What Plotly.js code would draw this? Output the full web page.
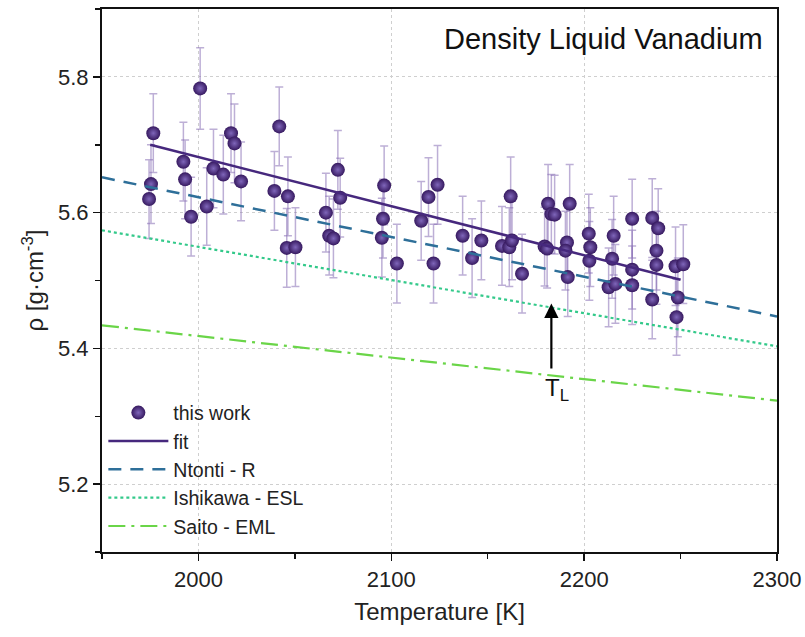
<!DOCTYPE html>
<html><head><meta charset="utf-8">
<script src="https://cdn.plot.ly/plotly-3.0.1.min.js"></script>
<style>html,body{margin:0;padding:0;background:#fff}#plot{width:805px;height:637px}</style>
</head><body><div id="plot"></div>
<script>
// measured points (this work)
const tempK = [1976.6,1975.4,1974.4,1992.2,1993.1,1996.2,2000.9,2004.3,2007.8,2012.9,2016.9,2018.7,2022.1,
  2041.9,2039.4,2046.4,2045.8,2050.3,2066.1,2067.8,2070.0,2072.3,2073.5,2096.3,2095.7,2095.1,
  2102.9,2115.5,2119.3,2124.0,2121.9,2137.0,2141.9,2146.7,2157.4,2161.2,2162.6,2161.9,2167.8,
  2181.3,2183.0,2184.7,2179.5,2180.8,2192.5,2191.1,2190.3,2191.5,2202.4,2203.2,2202.7,
  2215.3,2214.5,2212.7,2216.2,2224.9,2224.9,2224.9,2235.3,2238.4,2237.5,2237.5,2235.3,
  2247.4,2251.4,2248.6,2247.9];
const density = [5.717,5.642,5.620,5.675,5.649,5.594,5.783,5.609,5.665,5.656,5.717,5.702,5.646,
  5.727,5.632,5.624,5.548,5.549,5.600,5.566,5.562,5.663,5.622,5.640,5.591,5.563,
  5.525,5.588,5.623,5.641,5.525,5.566,5.533,5.559,5.551,5.549,5.559,5.624,5.510,
  5.613,5.598,5.597,5.550,5.547,5.613,5.556,5.544,5.505,5.569,5.549,5.529,
  5.566,5.532,5.490,5.495,5.591,5.516,5.493,5.592,5.577,5.544,5.523,5.472,
  5.521,5.524,5.475,5.446];
const densityErr = [0.058,0.058,0.058,0.058,0.058,0.058,0.060,0.057,0.058,0.058,0.058,0.058,0.058,
  0.058,0.058,0.058,0.058,0.058,0.058,0.058,0.058,0.058,0.058,0.058,0.058,0.058,
  0.058,0.058,0.058,0.058,0.058,0.058,0.058,0.058,0.058,0.058,0.058,0.058,0.058,
  0.058,0.058,0.058,0.058,0.058,0.058,0.058,0.058,0.058,0.058,0.058,0.058,
  0.058,0.058,0.058,0.058,0.058,0.058,0.058,0.058,0.058,0.058,0.058,0.058,
  0.058,0.058,0.058,0.056];
// fit and literature lines (endpoints)
const fitT = [1975, 2250], fitRho = [5.700, 5.501];
const ntontiT = [1950, 2300], ntontiRho = [5.652, 5.447];
const ishikawaT = [1950, 2300], ishikawaRho = [5.574, 5.403];
const saitoT = [1950, 2300], saitoRho = [5.434, 5.323];
const xTicks = [2000, 2100, 2200, 2300];
const yTicks = [5.2, 5.4, 5.6, 5.8];
const liquidusT = 2183;

const FONT = 'Liberation Sans, Arial, sans-serif';
const traces = [
  {x: tempK, y: density, type: 'scatter', mode: 'markers', name: 'this work',
   error_y: {type: 'data', array: densityErr, visible: true, color: 'rgba(135,110,180,0.55)', thickness: 1.5, width: 4},
   marker: {size: 14, color: '#36195f', gradient: {type: 'radial', color: '#7f66ba'}, line: {width: 0}}},
  {x: fitT, y: fitRho, type: 'scatter', mode: 'lines', name: 'fit', line: {color: '#46287d', width: 2.5}},
  {x: ntontiT, y: ntontiRho, type: 'scatter', mode: 'lines', name: 'Ntonti - R', line: {color: '#2e6f99', width: 2.5, dash: '13px,9px'}},
  {x: ishikawaT, y: ishikawaRho, type: 'scatter', mode: 'lines', name: 'Ishikawa - ESL', line: {color: '#33c98a', width: 2.2, dash: 'dot'}},
  {x: saitoT, y: saitoRho, type: 'scatter', mode: 'lines', name: 'Saito - EML', line: {color: '#6ad548', width: 2.2, dash: '17px,6px,3px,6px'}}
];
const axisCommon = {
  showline: true, linecolor: '#111', linewidth: 2, mirror: true,
  ticks: 'outside', ticklen: 7, tickwidth: 1.5, tickcolor: '#111',
  showgrid: true, gridcolor: '#cfcfcf', griddash: 'dot', gridwidth: 1,
  zeroline: false, tickfont: {family: FONT, size: 22, color: '#222'}
};
const layout = {
  width: 805, height: 637,
  margin: {l: 102, r: 28, t: 9, b: 85},
  paper_bgcolor: '#fff', plot_bgcolor: '#fff',
  font: {family: FONT, color: '#222'},
  showlegend: true,
  legend: {x: 0.002, y: 0.292, xanchor: 'left', yanchor: 'top', bgcolor: 'rgba(0,0,0,0)',
           font: {family: FONT, size: 19.5, color: '#222'}, itemwidth: 60, tracegroupgap: 0},
  xaxis: Object.assign({}, axisCommon, {range: [1950, 2300], tickvals: xTicks,
    minor: {dtick: 50, ticks: 'outside', ticklen: 5, tickwidth: 1.5, tickcolor: '#111', showgrid: false},
    title: {text: 'Temperature [K]', font: {family: FONT, size: 24, color: '#222'}, standoff: 12}}),
  yaxis: Object.assign({}, axisCommon, {range: [5.1, 5.9], tickvals: yTicks, tickformat: '.1f',
    minor: {dtick: 0.1, ticks: 'outside', ticklen: 5, tickwidth: 1.5, tickcolor: '#111', showgrid: false},
    title: {text: 'ρ [g·cm<sup>-3</sup>]', font: {family: FONT, size: 24, color: '#222'}, standoff: 8}}),
  annotations: [
    {xref: 'paper', yref: 'paper', x: 0.982, y: 0.945, xanchor: 'right', yanchor: 'middle',
     text: 'Density Liquid Vanadium', showarrow: false, font: {family: FONT, size: 29, color: '#111'}},
    {x: liquidusT, y: 5.466, ax: liquidusT, ay: 5.368, axref: 'x', ayref: 'y', xref: 'x', yref: 'y',
     text: '', showarrow: true, arrowhead: 2, arrowsize: 1.3, arrowwidth: 2.2, arrowcolor: '#000'},
    {x: liquidusT + 3, y: 5.34, xref: 'x', yref: 'y', text: 'T<sub>L</sub>', showarrow: false,
     font: {family: FONT, size: 24, color: '#111'}}
  ]
};
Plotly.newPlot('plot', traces, layout, {displayModeBar: false, staticPlot: true});
</script></body></html>
